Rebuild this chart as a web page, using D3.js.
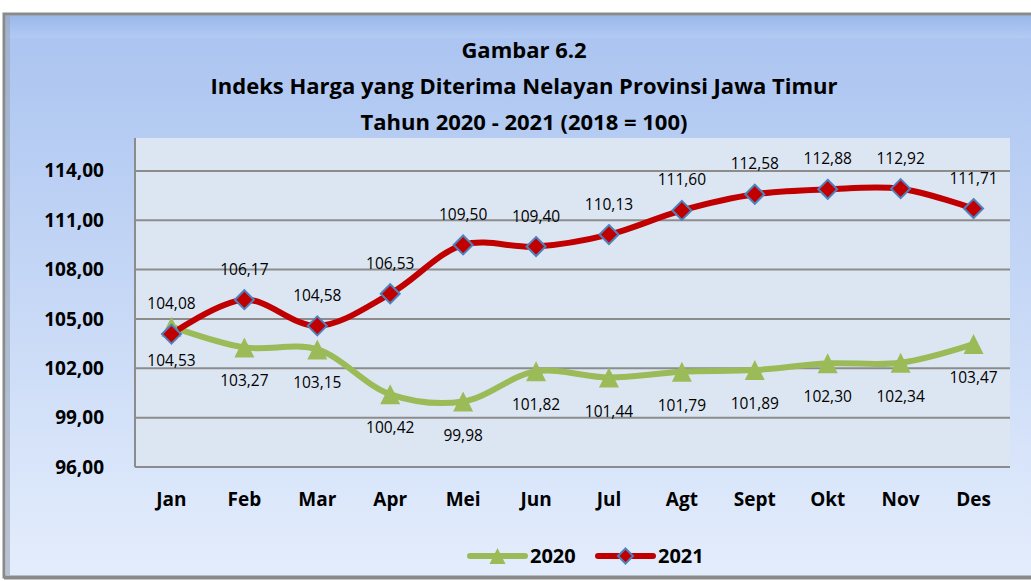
<!DOCTYPE html>
<meta charset="utf-8">
<head>
    <title>Indeks Harga Nelayan</title>
    <script src="https://cdn.jsdelivr.net/npm/d3@7"></script>
</head>

<style>
    body { margin: 0; background: #fff; }
    text { font-family: "Open Sans", "Liberation Sans", sans-serif; }
    .grid line { stroke: #8c8c8c; stroke-width: 2px; }
    .title { font-weight: bold; font-size: 22px; fill: #000; }
    .ylab text, .xlab text { font-weight: bold; font-size: 19px; }
    .dlab { font-size: 15.5px; fill: #000; }
</style>

<svg></svg>

<script>
    var W = 1031, H = 581;

    // data
    var months = ["Jan", "Feb", "Mar", "Apr", "Mei", "Jun", "Jul", "Agt", "Sept", "Okt", "Nov", "Des"];
    var v2020 = [104.53, 103.27, 103.15, 100.42, 99.98, 101.82, 101.44, 101.79, 101.89, 102.30, 102.34, 103.47];
    var v2021 = [104.08, 106.17, 104.58, 106.53, 109.50, 109.40, 110.13, 111.60, 112.58, 112.88, 112.92, 111.71];
    var yTicks = [96, 99, 102, 105, 108, 111, 114];
    var titles = ["Gambar 6.2", "Indeks Harga yang Diterima Nelayan Provinsi Jawa Timur", "Tahun 2020 - 2021 (2018 = 100)"];

    var fmt = function (v) { return v.toFixed(2).replace(".", ","); };

    var svg = d3.select("svg").attr("width", W).attr("height", H);
    var defs = svg.append("defs");

    var bg = defs.append("linearGradient").attr("id", "bg").attr("x1", 0).attr("y1", 0).attr("x2", 0).attr("y2", 1);
    bg.append("stop").attr("offset", "0%").attr("stop-color", "#a9c3f0");
    bg.append("stop").attr("offset", "100%").attr("stop-color", "#e4edfc");

    var bevel = defs.append("linearGradient").attr("id", "bevel").attr("x1", 0).attr("y1", 0).attr("x2", 0).attr("y2", 1);
    bevel.append("stop").attr("offset", "0%").attr("stop-color", "#8fb0e6");
    bevel.append("stop").attr("offset", "100%").attr("stop-color", "#b7cff5");

    // frame
    svg.append("rect").attr("x", 4).attr("y", 14).attr("width", W).attr("height", H - 18)
        .attr("fill", "url(#bg)").attr("stroke", "#8a8a8a").attr("stroke-width", 3);
    svg.append("rect").attr("x", 6).attr("y", 16).attr("width", W).attr("height", 22)
        .attr("fill", "url(#bevel)").attr("opacity", 0.6);
    svg.append("rect").attr("x", 6).attr("y", 16).attr("width", 4).attr("height", H - 22)
        .attr("fill", "#9aa6b8").attr("opacity", 0.6);
    svg.append("line").attr("x1", 4).attr("x2", W).attr("y1", H - 3).attr("y2", H - 3)
        .attr("stroke", "#8a8a8a").attr("stroke-width", 3);

    // plot area
    var m = { left: 135, right: 1010, top: 138, bottom: 467 };

    var x = d3.scaleBand().domain(months).range([m.left, m.right]);
    var y = d3.scaleLinear().domain([96, 116]).range([m.bottom, m.top]);
    var cx = function (i) { return x(months[i]) + x.bandwidth() / 2; };

    svg.append("rect").attr("x", m.left).attr("y", m.top)
        .attr("width", m.right - m.left).attr("height", m.bottom - m.top)
        .attr("fill", "#dce6f2");

    svg.append("g").attr("class", "grid")
        .selectAll("line").data(yTicks).enter().append("line")
        .attr("x1", m.left).attr("x2", m.right)
        .attr("y1", function (d) { return y(d); }).attr("y2", function (d) { return y(d); });

    svg.append("line").attr("x1", m.left).attr("x2", m.left).attr("y1", m.top).attr("y2", m.bottom)
        .attr("stroke", "#8c8c8c").attr("stroke-width", 2);

    // axes
    var yAxis = svg.append("g").attr("class", "ylab")
        .attr("transform", "translate(" + (m.left - 28) + ",0)")
        .call(d3.axisLeft(y).tickValues(yTicks).tickSize(0).tickFormat(fmt));
    yAxis.select(".domain").remove();

    var xAxis = svg.append("g").attr("class", "xlab")
        .attr("transform", "translate(0," + (m.bottom + 22) + ")")
        .call(d3.axisBottom(x).tickSize(0));
    xAxis.select(".domain").remove();
    xAxis.selectAll("text").attr("dy", "0.71em");

    // titles
    svg.append("g").selectAll("text").data(titles).enter().append("text")
        .attr("class", "title").attr("text-anchor", "middle")
        .attr("x", 524).attr("y", function (d, i) { return 58 + i * 36; })
        .text(function (d) { return d; });

    // lines
    var line = d3.line()
        .x(function (d, i) { return cx(i); })
        .y(function (d) { return y(d); })
        .curve(d3.curveCatmullRom.alpha(0.5));

    svg.append("path").datum(v2020).attr("d", line)
        .attr("fill", "none").attr("stroke", "#9bbb59").attr("stroke-width", 6).attr("stroke-linejoin", "round");
    svg.append("path").datum(v2021).attr("d", line)
        .attr("fill", "none").attr("stroke", "#c00000").attr("stroke-width", 6).attr("stroke-linejoin", "round");

    // markers
    function triPath(s) { return "M0," + (-s / 2) + "L" + (s / 2) + "," + (s / 2) + "L" + (-s / 2) + "," + (s / 2) + "Z"; }
    function diaPath(s) { return "M0," + (-s / 2) + "L" + (s / 2) + ",0L0," + (s / 2) + "L" + (-s / 2) + ",0Z"; }

    svg.append("g").selectAll("path").data(v2020).enter().append("path")
        .attr("d", triPath(20))
        .attr("transform", function (d, i) { return "translate(" + cx(i) + "," + y(d) + ")"; })
        .attr("fill", "#9bbb59");

    svg.append("g").selectAll("path").data(v2021).enter().append("path")
        .attr("d", diaPath(19))
        .attr("transform", function (d, i) { return "translate(" + cx(i) + "," + y(d) + ")"; })
        .attr("fill", "#c00000").attr("stroke", "#4f81bd").attr("stroke-width", 2);

    // data labels
    svg.append("g").selectAll("text").data(v2020).enter().append("text")
        .attr("class", "dlab").attr("text-anchor", "middle")
        .attr("x", function (d, i) { return cx(i); })
        .attr("y", function (d) { return y(d) + 39; })
        .text(fmt);

    svg.append("g").selectAll("text").data(v2021).enter().append("text")
        .attr("class", "dlab").attr("text-anchor", "middle")
        .attr("x", function (d, i) { return cx(i); })
        .attr("y", function (d) { return y(d) - 25; })
        .text(fmt);

    // legend
    var leg = svg.append("g").attr("transform", "translate(0,556)");
    var items = [
        { name: "2020", color: "#9bbb59", x0: 470, d: triPath(16), stroke: "none" },
        { name: "2021", color: "#c00000", x0: 598, d: diaPath(15), stroke: "#4f81bd" }
    ];
    items.forEach(function (it) {
        leg.append("line").attr("x1", it.x0).attr("x2", it.x0 + 55).attr("y1", 0).attr("y2", 0)
            .attr("stroke", it.color).attr("stroke-width", 6).attr("stroke-linecap", "round");
        leg.append("path").attr("d", it.d).attr("transform", "translate(" + (it.x0 + 27.5) + ",0)")
            .attr("fill", it.color).attr("stroke", it.stroke).attr("stroke-width", 2);
        leg.append("text").attr("x", it.x0 + 60).attr("y", 7)
            .style("font-weight", "bold").style("font-size", "20px").text(it.name);
    });
</script>
